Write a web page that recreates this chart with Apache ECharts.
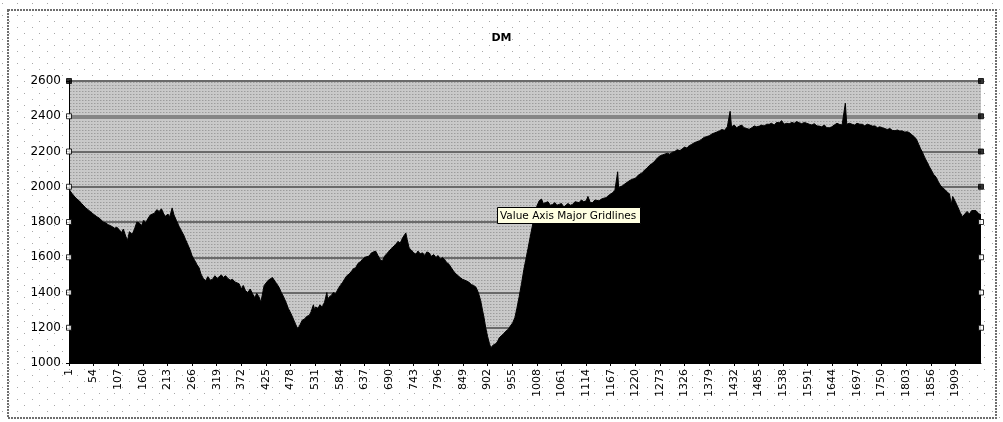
<!DOCTYPE html>
<html>
<head>
<meta charset="utf-8">
<script src="https://cdn.jsdelivr.net/npm/echarts@6/dist/echarts.min.js"></script>
<style>
  html, body { margin: 0; padding: 0; background: #fff; }
  #chart { width: 1003px; height: 422px; }
</style>
</head>
<body>
<div id="chart"></div>
<script>
// ---- data ----
const chartTitle = 'DM';
const calloutText = 'Value Axis Major Gridlines';
const pointCount = 1964;
const xTicks = [1, 54, 107, 160, 213, 266, 319, 372, 425, 478, 531, 584, 637, 690, 743, 796, 849, 902, 955,
  1008, 1061, 1114, 1167, 1220, 1273, 1326, 1379, 1432, 1485, 1538, 1591, 1644, 1697, 1750, 1803, 1856, 1909];
const yMin = 1000, yMax = 2600, yStep = 200;
const handleLevels = [1200, 1400, 1600, 1800, 2000, 2200, 2400, 2600];
const selectedGridline = 2400;

// point number of each reading
const sampleIndex = [
  1, 4, 8, 12, 16, 20, 23, 28, 32, 37, 42, 46, 51, 56, 61, 66, 70, 75, 80, 85, 90, 94, 99, 104, 109, 114, 118, 123, 127, 131,
  137, 142, 147, 152, 157, 162, 166, 171, 176, 180, 185, 190, 195, 200, 205, 209, 214, 218, 223, 227, 232, 238, 243, 248, 252,
  257, 262, 266, 271, 276, 281, 285, 290, 295, 300, 305, 310, 315, 320, 324, 329, 333, 338, 343, 348, 353, 358, 362, 367, 372,
  376, 381, 386, 391, 396, 401, 405, 410, 414, 418, 421, 425, 430, 434, 439, 444, 448, 453, 458, 463, 468, 473, 477, 482, 487,
  493, 497, 503, 508, 513, 518, 522, 527, 530, 532, 537, 541, 546, 551, 556, 558, 561, 566, 570, 575, 580, 585, 590, 595, 599,
  604, 609, 613, 618, 623, 628, 633, 638, 642, 647, 652, 656, 661, 666, 671, 676, 680, 685, 690, 695, 699, 704, 709, 714, 719,
  723, 726, 729, 733, 738, 743, 748, 752, 757, 762, 767, 771, 776, 781, 786, 791, 795, 800, 805, 810, 814, 819, 824, 829, 834,
  838, 843, 848, 853, 857, 862, 867, 872, 877, 882, 887, 891, 894, 898, 902, 906, 909, 913, 917, 920, 924, 927, 931, 936, 941,
  946, 951, 956, 961, 965, 970, 975, 980, 984, 989, 995, 1002, 1008, 1013, 1018, 1022, 1027, 1032, 1037, 1042, 1047, 1051, 1056,
  1061, 1066, 1070, 1075, 1080, 1085, 1090, 1094, 1099, 1104, 1109, 1114, 1118, 1123, 1128, 1133, 1137, 1142, 1147, 1152, 1157,
  1162, 1166, 1171, 1176, 1180, 1182, 1184, 1188, 1192, 1197, 1201, 1206, 1211, 1216, 1221, 1226, 1230, 1235, 1240, 1245, 1250,
  1255, 1260, 1264, 1268, 1273, 1278, 1283, 1289, 1294, 1300, 1305, 1310, 1316, 1321, 1326, 1331, 1336, 1341, 1347, 1352, 1358,
  1363, 1368, 1374, 1379, 1385, 1390, 1395, 1401, 1406, 1412, 1418, 1422, 1424, 1427, 1433, 1438, 1444, 1449, 1454, 1460, 1465,
  1471, 1476, 1481, 1487, 1492, 1497, 1503, 1508, 1513, 1519, 1524, 1530, 1535, 1540, 1546, 1551, 1557, 1562, 1567, 1573, 1578,
  1584, 1589, 1595, 1600, 1605, 1611, 1616, 1621, 1627, 1632, 1638, 1643, 1648, 1654, 1659, 1665, 1669, 1672, 1675, 1681, 1687,
  1692, 1697, 1703, 1709, 1714, 1719, 1725, 1730, 1736, 1741, 1746, 1752, 1757, 1762, 1768, 1773, 1779, 1784, 1789, 1795, 1800,
  1805, 1810, 1815, 1820, 1825, 1830, 1834, 1838, 1843, 1848, 1853, 1858, 1862, 1867, 1872, 1876, 1881, 1886, 1891, 1896, 1900,
  1903, 1907, 1910, 1915, 1919, 1924, 1929, 1934, 1939, 1944, 1948, 1953, 1958, 1962, 1964
];

// DM reading at each point above
const dmValues = [
  1985, 1975, 1960, 1950, 1935, 1930, 1920, 1905, 1895, 1880, 1870, 1860, 1850, 1840, 1830, 1822, 1812, 1800, 1795, 1785, 1780, 1775, 1765, 1770, 1757, 1740, 1760, 1720, 1695, 1745,
  1730, 1760, 1800, 1795, 1780, 1810, 1795, 1820, 1840, 1832, 1850, 1870, 1860, 1875, 1845, 1832, 1845, 1830, 1880, 1840, 1810, 1775, 1750, 1725, 1700,
  1670, 1640, 1607, 1585, 1560, 1540, 1505, 1480, 1467, 1490, 1470, 1475, 1495, 1480, 1490, 1500, 1485, 1495, 1480, 1470, 1475, 1460, 1455, 1450, 1420,
  1440, 1410, 1400, 1420, 1393, 1370, 1395, 1375, 1345, 1400, 1440, 1450, 1470, 1460, 1485, 1465, 1450, 1430, 1400, 1375, 1345, 1310, 1290, 1262, 1230,
  1195, 1210, 1243, 1250, 1265, 1270, 1290, 1330, 1300, 1318, 1310, 1330, 1318, 1345, 1400, 1360, 1375, 1385, 1400, 1393, 1420, 1440, 1458, 1480, 1495,
  1505, 1520, 1535, 1540, 1565, 1575, 1588, 1600, 1590, 1607, 1625, 1615, 1635, 1610, 1585, 1580, 1605, 1620, 1635, 1650, 1660, 1672, 1690, 1680, 1710,
  1700, 1738, 1700, 1653, 1640, 1625, 1617, 1635, 1620, 1625, 1610, 1630, 1625, 1605, 1615, 1598, 1610, 1590, 1598, 1585, 1570, 1560, 1540, 1520, 1505,
  1495, 1485, 1475, 1470, 1460, 1458, 1445, 1440, 1430, 1400, 1355, 1300, 1262, 1200, 1150, 1110, 1085, 1100, 1095, 1110, 1125, 1143, 1150, 1165, 1180,
  1190, 1210, 1228, 1260, 1310, 1377, 1450, 1530, 1583, 1650, 1733, 1826, 1890, 1920, 1930, 1905, 1910, 1915, 1895, 1900, 1910, 1895, 1900,
  1905, 1885, 1891, 1905, 1895, 1900, 1915, 1905, 1910, 1925, 1915, 1920, 1945, 1910, 1910, 1925, 1915, 1920, 1930, 1935, 1938,
  1950, 1960, 1966, 1980, 1990, 2085, 1995, 2000, 2005, 2015, 2025, 2032, 2040, 2045, 2050, 2065, 2075, 2080, 2095, 2105, 2120,
  2130, 2140, 2150, 2165, 2175, 2180, 2185, 2190, 2185, 2196, 2200, 2210, 2205, 2215, 2225, 2220, 2233, 2240, 2250, 2255, 2261,
  2270, 2280, 2285, 2289, 2300, 2305, 2310, 2317, 2325, 2320, 2340, 2345, 2428, 2340, 2350, 2335, 2344, 2350, 2335, 2330, 2326,
  2335, 2345, 2340, 2344, 2350, 2345, 2355, 2354, 2360, 2350, 2365, 2363, 2375, 2355, 2360, 2357, 2365, 2360, 2370, 2363, 2358,
  2365, 2360, 2354, 2350, 2358, 2345, 2344, 2340, 2350, 2335, 2335, 2340, 2350, 2360, 2354, 2350, 2360, 2474, 2355, 2360, 2354,
  2350, 2360, 2355, 2354, 2345, 2355, 2350, 2344, 2345, 2335, 2340, 2335, 2330, 2325, 2330, 2320, 2318, 2322, 2317, 2317, 2310,
  2312, 2307, 2295, 2285, 2270, 2240, 2215, 2196, 2165, 2140, 2113, 2090, 2070, 2055, 2030, 2010, 1995, 1985, 1970, 1960, 1900,
  1945, 1925, 1915, 1880, 1855, 1830, 1845, 1860, 1845, 1865, 1855, 1865, 1850, 1845, 1840
];

// ---- textures ----
function makeTile(w, h, bg, dots) {
  const c = document.createElement('canvas');
  c.width = w; c.height = h;
  const g = c.getContext('2d');
  g.fillStyle = bg;
  g.fillRect(0, 0, w, h);
  dots.forEach(function (d) {
    g.fillStyle = d[2];
    g.fillRect(d[0], d[1], 1, 1);
  });
  return c;
}
// sparse staggered dots on the white chart area
const pageTile = makeTile(15, 12, '#ffffff', [[2, 3, '#a8a8a8'], [9, 9, '#a8a8a8']]);
document.getElementById('chart').style.backgroundImage = 'url(' + pageTile.toDataURL() + ')';
// fine mesh on the grey plot area
const plotTile = makeTile(3, 3, '#c9c9c9', [[1, 1, '#9c9c9c'], [2, 1, '#b4b4b4']]);

const seriesData = sampleIndex.map(function (x, k) { return [x, dmValues[k]]; });
const handles = [];
handleLevels.forEach(function (v) {
  handles.push({ value: [1, v], itemStyle: { color: v === yMax ? '#000' : '#fff' } });
  handles.push({ value: [pointCount, v], itemStyle: { color: v >= 2000 ? '#000' : '#fff' } });
});

const plainNumber = function (v) { return String(v); };
const chart = echarts.init(document.getElementById('chart'), null, { renderer: 'canvas' });
const textFont = 'DejaVu Sans';

chart.setOption({
  backgroundColor: 'transparent',
  animation: false,
  title: {
    text: chartTitle,
    left: 'center',
    top: 28,
    textStyle: { fontFamily: textFont, fontSize: 11, fontWeight: 'bold', color: '#000' }
  },
  grid: {
    left: 69, right: 22, top: 81, bottom: 59,
    show: true,
    borderWidth: 0,
    backgroundColor: { image: plotTile, repeat: 'repeat' }
  },
  xAxis: {
    type: 'value',
    min: 1,
    max: pointCount,
    axisLine: { show: true, lineStyle: { color: '#000', width: 1 } },
    axisTick: { show: true, length: 3, customValues: xTicks, lineStyle: { color: '#000' } },
    axisLabel: {
      customValues: xTicks,
      formatter: plainNumber,
      rotate: 90,
      margin: 6,
      fontFamily: textFont,
      fontSize: 11,
      color: '#000'
    },
    splitLine: { show: false }
  },
  yAxis: {
    type: 'value',
    min: yMin,
    max: yMax,
    interval: yStep,
    axisLine: { show: true, lineStyle: { color: '#000', width: 1 } },
    axisTick: { show: true, length: 3, lineStyle: { color: '#000' } },
    axisLabel: { formatter: plainNumber, margin: 8, fontFamily: textFont, fontSize: 12, color: '#000' },
    splitLine: { show: true, lineStyle: { color: '#6a6a6a', width: 2 } }
  },
  series: [
    {
      type: 'line',
      data: seriesData,
      showSymbol: false,
      sampling: 'none',
      lineStyle: { color: '#000', width: 1 },
      areaStyle: { color: '#000', opacity: 1, origin: 'start' },
      markLine: {
        silent: true,
        symbol: 'none',
        label: { show: false },
        lineStyle: { color: '#858585', width: 4, type: 'solid' },
        data: [{ yAxis: selectedGridline }],
        z: 1
      },
      z: 2
    },
    {
      type: 'scatter',
      data: handles,
      symbol: 'rect',
      symbolSize: 5,
      itemStyle: { borderColor: '#000', borderWidth: 1 },
      silent: true,
      z: 5
    }
  ],
  graphic: [
    {
      type: 'rect',
      shape: { x: 8, y: 10, width: 988, height: 408 },
      style: { fill: 'none', stroke: '#6e6e6e', lineWidth: 2, lineDash: [2, 1] },
      silent: true,
      z: 0
    },
    {
      type: 'rect',
      shape: { x: 497.5, y: 207.5, width: 143, height: 16 },
      style: { fill: '#ffffe1', stroke: '#000', lineWidth: 1 },
      silent: true,
      z: 100,
      zlevel: 1
    },
    {
      type: 'text',
      x: 500,
      y: 216,
      silent: true,
      z: 101,
      zlevel: 1,
      style: {
        text: calloutText,
        fill: '#000',
        font: '10.5px "DejaVu Sans"',
        verticalAlign: 'middle'
      }
    }
  ]
});
</script>
</body>
</html>
